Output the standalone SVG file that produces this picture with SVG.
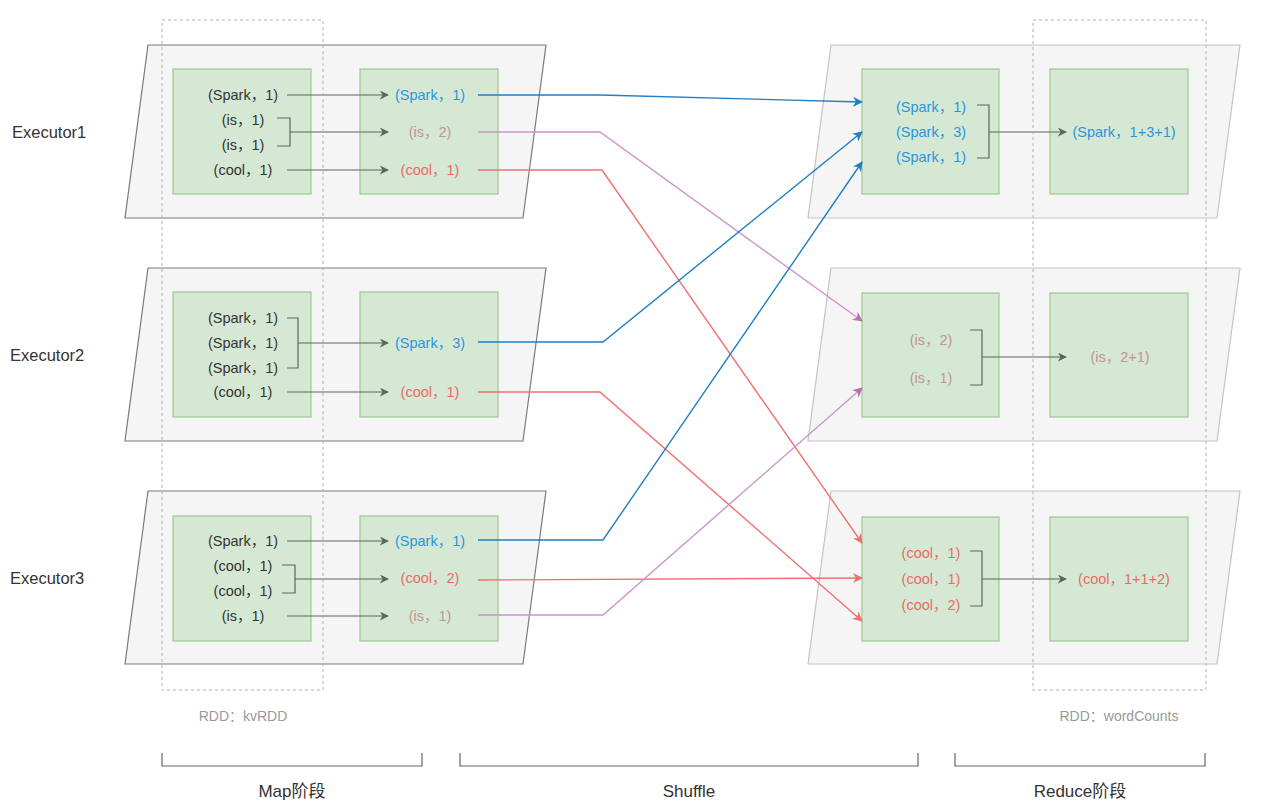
<svg xmlns="http://www.w3.org/2000/svg" width="1273" height="812" viewBox="0 0 1273 812">
<defs>
<style>
text{font-family:"Liberation Sans","Noto Sans CJK SC",Arial,sans-serif;}
.exe{font-size:16.5px;fill:#333;}
.t{font-size:14.5px;text-anchor:middle;dominant-baseline:central;}
.k{fill:#333;}
.b{fill:#2b95e0;}
.r{fill:#ea6b66;}
.p{fill:#c49393;}
.pl{fill:#f5f5f5;stroke:#7a7a7a;stroke-width:1.2;}
.pr{fill:#f5f5f5;stroke:#c4c4c4;stroke-width:1.2;}
.g{fill:#d5e8d4;stroke:#9cc88e;stroke-width:1.2;}
.dash{fill:none;stroke:#b0b0b0;stroke-width:1;stroke-dasharray:3,3;}
.ga{fill:none;stroke:#5b665b;stroke-width:1.2;}
.cb{fill:none;stroke:#1f7fc4;stroke-width:1.4;}
.cr{fill:none;stroke:#f07070;stroke-width:1.4;}
.cp{fill:none;stroke:#cc94cc;stroke-width:1.4;}
.lbl{font-size:14px;fill:#999;text-anchor:middle;}
.stage{font-size:17px;fill:#333;text-anchor:middle;}
.brk{fill:none;stroke:#666;stroke-width:1.2;}
</style>
<marker id="ag" viewBox="0 0 10 10" refX="9" refY="5" markerWidth="9" markerHeight="9" markerUnits="userSpaceOnUse" orient="auto"><path d="M0,0 L10,5 L0,10 L3,5 Z" fill="#5b665b"/></marker>
<marker id="ab" viewBox="0 0 10 10" refX="9" refY="5" markerWidth="10" markerHeight="10" markerUnits="userSpaceOnUse" orient="auto"><path d="M0,0 L10,5 L0,10 L3,5 Z" fill="#1f7fc4"/></marker>
<marker id="ar" viewBox="0 0 10 10" refX="9" refY="5" markerWidth="10" markerHeight="10" markerUnits="userSpaceOnUse" orient="auto"><path d="M0,0 L10,5 L0,10 L3,5 Z" fill="#f07070"/></marker>
<marker id="ap" viewBox="0 0 10 10" refX="9" refY="5" markerWidth="10" markerHeight="10" markerUnits="userSpaceOnUse" orient="auto"><path d="M0,0 L10,5 L0,10 L3,5 Z" fill="#b86fb0"/></marker>
</defs>
<rect width="1273" height="812" fill="#ffffff"/>

<g id="executor1-map">
<polygon class="pl" points="148,45 546,45 523,218 125,218"/>
<rect class="g" x="173" y="69" width="138" height="125"/>
<rect class="g" x="360" y="69" width="138" height="125"/>
<text class="t k" x="243" y="95">(Spark，1)</text>
<text class="t k" x="243" y="120">(is，1)</text>
<text class="t k" x="243" y="145">(is，1)</text>
<text class="t k" x="243" y="170">(cool，1)</text>
<text class="t b" x="430" y="95">(Spark，1)</text>
<text class="t p" x="430" y="132">(is，2)</text>
<text class="t r" x="430" y="170">(cool，1)</text>
<path class="ga" d="M287,95 H388" marker-end="url(#ag)"/>
<path class="ga" d="M277,118 H290 V146 H277 M290,132 H388" marker-end="url(#ag)"/>
<path class="ga" d="M287,170 H388" marker-end="url(#ag)"/>
</g>

<g id="executor2-map">
<polygon class="pl" points="148,268 546,268 523,441 125,441"/>
<rect class="g" x="173" y="292" width="138" height="125"/>
<rect class="g" x="360" y="292" width="138" height="125"/>
<text class="t k" x="243" y="318">(Spark，1)</text>
<text class="t k" x="243" y="343">(Spark，1)</text>
<text class="t k" x="243" y="368">(Spark，1)</text>
<text class="t k" x="243" y="392">(cool，1)</text>
<text class="t b" x="430" y="343">(Spark，3)</text>
<text class="t r" x="430" y="392">(cool，1)</text>
<path class="ga" d="M287,318 H298 V368 H287 M298,343 H388" marker-end="url(#ag)"/>
<path class="ga" d="M287,392 H388" marker-end="url(#ag)"/>
</g>

<g id="executor3-map">
<polygon class="pl" points="148,491 546,491 523,664 125,664"/>
<rect class="g" x="173" y="516" width="138" height="125"/>
<rect class="g" x="360" y="516" width="138" height="125"/>
<text class="t k" x="243" y="541">(Spark，1)</text>
<text class="t k" x="243" y="566">(cool，1)</text>
<text class="t k" x="243" y="591">(cool，1)</text>
<text class="t k" x="243" y="616">(is，1)</text>
<text class="t b" x="430" y="541">(Spark，1)</text>
<text class="t r" x="430" y="578">(cool，2)</text>
<text class="t p" x="430" y="616">(is，1)</text>
<path class="ga" d="M287,541 H388" marker-end="url(#ag)"/>
<path class="ga" d="M282,565 H295 V593 H282 M295,579 H388" marker-end="url(#ag)"/>
<path class="ga" d="M287,616 H388" marker-end="url(#ag)"/>
</g>

<g id="reduce-spark">
<polygon class="pr" points="831,45 1240,45 1217,218 808,218"/>
<rect class="g" x="862" y="69" width="137" height="125"/>
<rect class="g" x="1050" y="69" width="138" height="125"/>
<text class="t b" x="931" y="107">(Spark，1)</text>
<text class="t b" x="931" y="132">(Spark，3)</text>
<text class="t b" x="931" y="157">(Spark，1)</text>
<text class="t b" x="1124" y="132">(Spark，1+3+1)</text>
<path class="ga" d="M977,105 H989 V158 H977 M989,132 H1066" marker-end="url(#ag)"/>
</g>

<g id="reduce-is">
<polygon class="pr" points="831,268 1240,268 1217,441 808,441"/>
<rect class="g" x="862" y="293" width="137" height="124"/>
<rect class="g" x="1050" y="293" width="138" height="124"/>
<text class="t p" x="931" y="340">(is，2)</text>
<text class="t p" x="931" y="378">(is，1)</text>
<text class="t p" x="1120" y="357">(is，2+1)</text>
<path class="ga" d="M970,330 H982 V385 H970 M982,357 H1066" marker-end="url(#ag)"/>
</g>

<g id="reduce-cool">
<polygon class="pr" points="831,491 1240,491 1217,664 808,664"/>
<rect class="g" x="862" y="517" width="137" height="124"/>
<rect class="g" x="1050" y="517" width="138" height="124"/>
<text class="t r" x="931" y="553">(cool，1)</text>
<text class="t r" x="931" y="579">(cool，1)</text>
<text class="t r" x="931" y="605">(cool，2)</text>
<text class="t r" x="1124" y="579">(cool，1+1+2)</text>
<path class="ga" d="M970,551 H982 V606 H970 M982,579 H1066" marker-end="url(#ag)"/>
</g>

<g id="rdd-frames">
<rect class="dash" x="162" y="20" width="161" height="670"/>
<rect class="dash" x="1033" y="20" width="173" height="670"/>
</g>

<g id="connectors">
<path class="cb" d="M478,95 H600 L862,102" marker-end="url(#ab)"/>
<path class="cp" d="M478,132 H600 L862,321" marker-end="url(#ap)"/>
<path class="cr" d="M478,170 H602 L862,543" marker-end="url(#ar)"/>
<path class="cb" d="M478,342 H603 L862,132" marker-end="url(#ab)"/>
<path class="cr" d="M478,392 H600 L862,621" marker-end="url(#ar)"/>
<path class="cb" d="M478,540 H603 L862,162" marker-end="url(#ab)"/>
<path class="cr" d="M478,580 L862,578" marker-end="url(#ar)"/>
<path class="cp" d="M478,615 H603 L862,388" marker-end="url(#ap)"/>
</g>

<g id="labels">
<text class="exe" x="12" y="138">Executor1</text>
<text class="exe" x="10" y="361">Executor2</text>
<text class="exe" x="10" y="584">Executor3</text>
<text class="lbl" x="243" y="721">RDD：kvRDD</text>
<text class="lbl" x="1119" y="721">RDD：wordCounts</text>
</g>

<g id="stages">
<path class="brk" d="M162,753 V766 H422 V753"/>
<path class="brk" d="M460,753 V766 H918 V753"/>
<path class="brk" d="M955,753 V766 H1205 V753"/>
<text class="stage" x="292" y="797">Map阶段</text>
<text class="stage" x="689" y="797">Shuffle</text>
<text class="stage" x="1080" y="797">Reduce阶段</text>
</g>
</svg>
